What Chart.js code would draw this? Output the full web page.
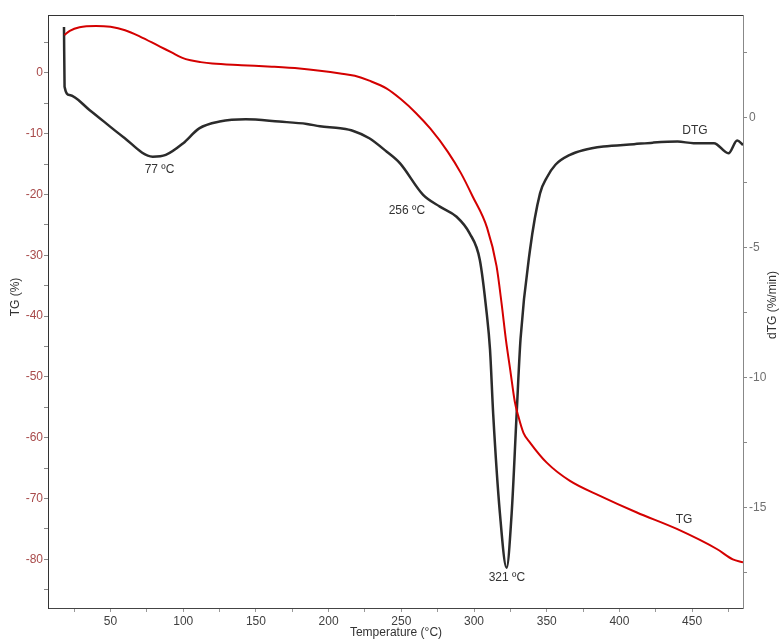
<!DOCTYPE html>
<html>
<head>
<meta charset="utf-8">
<script src="https://cdn.jsdelivr.net/npm/chart.js@4/dist/chart.umd.min.js"></script>
<style>
html,body{margin:0;padding:0;background:#ffffff;}
#wrap{width:779px;height:639px;position:relative;}
</style>
</head>
<body>
<div id="wrap"><canvas id="c" width="779" height="639"></canvas></div>
<script>
// ---- TG curve (left axis, %) ----
const tgTemperature = [18.3, 22, 28.7, 40, 50, 60, 70, 84, 92, 99, 105, 112, 120, 140, 161, 180, 194, 208, 218, 228, 240, 250, 260, 270, 282, 291, 299, 309, 315.5, 319, 322, 325, 328, 330.4, 334, 338.5, 350, 366, 387, 412, 439.5, 467, 478, 485];
const tgPercent     = [6.2, 6.9, 7.5, 7.7, 7.55, 7.0, 6.0, 4.3, 3.35, 2.5, 2.05, 1.75, 1.52, 1.25, 1.0, 0.7, 0.35, -0.1, -0.5, -1.3, -2.6, -4.4, -6.6, -9.2, -13.0, -16.5, -20.3, -25.5, -31.8, -38, -44, -49, -54, -56.4, -59.2, -60.8, -64.1, -67.1, -69.6, -72.3, -75.0, -78.3, -80.0, -80.5];

// ---- DTG curve (right axis, %/min) ----
const dtgTemperature = [18.0, 18.4, 21.8, 35.5, 58.5, 79, 88, 100, 111, 125, 143, 166, 185, 194, 208, 217, 228, 240, 249, 265, 276.5, 288, 297, 304, 308.7, 311, 313.2, 317.8, 322.4, 325.9, 329.3, 332, 338.5, 345.4, 350, 356, 366, 375, 389, 410, 423, 440, 451, 465, 475, 481, 485];
const dtgRate        = [3.5, 1.2, 0.88, 0.31, -0.72, -1.49, -1.42, -0.97, -0.40, -0.14, -0.05, -0.14, -0.23, -0.32, -0.40, -0.50, -0.78, -1.30, -1.74, -2.96, -3.41, -3.80, -4.44, -5.46, -7.5, -8.9, -11.4, -15.2, -17.3, -15.2, -11.4, -8.5, -5.08, -2.90, -2.3, -1.8, -1.42, -1.24, -1.10, -1.01, -0.95, -0.91, -0.97, -0.97, -1.36, -0.87, -1.04];

// ---- Tick labels ----
const temperatureTickLabels = [50, 100, 150, 200, 250, 300, 350, 400, 450];
const tgTickLabels = [0, -10, -20, -30, -40, -50, -60, -70, -80];
const dtgTickLabels = [0, -5, -10, -15];

// ---- Annotation texts ----
const peakLabels = ['77 ºC', '256 ºC', '321 ºC'];
const peakTemps  = [83.7, 253.8, 322.6];
const peakRates  = [-2.0, -3.58, -17.7];
const seriesNames = ['TG', 'DTG'];

const FONT = '"Liberation Sans", Arial, sans-serif';

const tgData = tgTemperature.map((t, i) => ({x: t, y: tgPercent[i]}));
const dtgData = dtgTemperature.map((t, i) => ({x: t, y: dtgRate[i]}));

const decor = {
  id: 'decor',
  afterDatasetsDraw(chart) {
    const ctx = chart.ctx;
    const a = chart.chartArea;
    const sx = chart.scales.x, sy = chart.scales.y, sy2 = chart.scales.y2;
    ctx.save();
    ctx.strokeStyle = '#333333';
    ctx.lineWidth = 1;
    ctx.beginPath();
    ctx.moveTo(a.left, a.top + 0.5);
    ctx.lineTo(a.right, a.top + 0.5);
    ctx.stroke();

    ctx.fillStyle = '#333333';
    ctx.font = '12px ' + FONT;
    ctx.textAlign = 'center';
    ctx.textBaseline = 'middle';
    for (let i = 0; i < peakLabels.length; i++) {
      ctx.fillText(peakLabels[i], sx.getPixelForValue(peakTemps[i]), sy2.getPixelForValue(peakRates[i]));
    }
    ctx.fillText(seriesNames[1], sx.getPixelForValue(452), sy2.getPixelForValue(-0.5));
    ctx.fillText(seriesNames[0], sx.getPixelForValue(444.5), sy.getPixelForValue(-73.4));

    ctx.fillText('Temperature (°C)', 396, 633);
    ctx.save();
    ctx.translate(16, 297);
    ctx.rotate(-Math.PI / 2);
    ctx.fillText('TG (%)', 0, 0);
    ctx.restore();
    ctx.save();
    ctx.translate(773, 305);
    ctx.rotate(-Math.PI / 2);
    ctx.fillText('dTG (%/min)', 0, 0);
    ctx.restore();
    ctx.restore();
  }
};

new Chart(document.getElementById('c'), {
  type: 'line',
  data: {
    datasets: [
      {
        label: 'TG', data: tgData, yAxisID: 'y', borderColor: '#d40000', borderWidth: 2,
        pointRadius: 0, cubicInterpolationMode: 'monotone', fill: false, order: 0
      },
      {
        label: 'DTG', data: dtgData, yAxisID: 'y2', borderColor: '#2b2b2b', borderWidth: 2.5,
        pointRadius: 0, cubicInterpolationMode: 'monotone', fill: false, order: 1
      }
    ]
  },
  options: {
    responsive: false,
    devicePixelRatio: 1,
    animation: false,
    layout: {padding: {top: 15, left: 0, right: 0, bottom: 0}},
    plugins: {legend: {display: false}, tooltip: {enabled: false}},
    scales: {
      x: {
        type: 'linear', position: 'bottom', min: 7, max: 485,
        ticks: {
          stepSize: 25, includeBounds: false, autoSkip: false, maxRotation: 0, padding: 2,
          color: '#404040', font: {family: FONT, size: 12},
          callback: v => temperatureTickLabels.includes(v) ? String(v) : ''
        },
        grid: {drawOnChartArea: false, tickLength: 4, color: '#999999'},
        border: {color: '#444444'},
        afterFit: s => { s.height = 31; }
      },
      y: {
        type: 'linear', position: 'left', min: -88, max: 9.5,
        ticks: {
          stepSize: 5, includeBounds: false, autoSkip: false, padding: 1,
          color: '#a84a4a', font: {family: FONT, size: 12},
          callback: v => tgTickLabels.includes(v) ? String(v) : ''
        },
        grid: {drawOnChartArea: false, tickLength: 4, color: '#888888'},
        border: {color: '#333333'},
        afterFit: s => { s.width = 48; }
      },
      y2: {
        type: 'linear', position: 'right', min: -18.85, max: 3.96,
        ticks: {
          stepSize: 2.5, includeBounds: false, autoSkip: false, padding: 2,
          color: '#707070', font: {family: FONT, size: 12},
          callback: v => dtgTickLabels.includes(v) ? String(v) : ''
        },
        grid: {drawOnChartArea: false, tickLength: 4, color: '#888888'},
        border: {color: '#888888'},
        afterFit: s => { s.width = 36; }
      }
    }
  },
  plugins: [decor]
});
</script>
</body>
</html>
